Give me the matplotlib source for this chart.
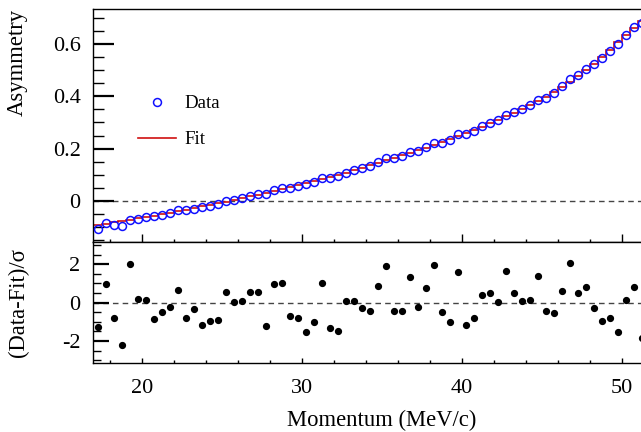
import numpy as np
import matplotlib.pyplot as plt
from matplotlib.ticker import MultipleLocator, FixedLocator

plt.rcParams['font.family'] = ['Liberation Serif', 'DejaVu Serif']
plt.rcParams['axes.unicode_minus'] = False

# bin centres (MeV/c), 0.5 MeV/c bins from 17 to 51.5
momentum = np.arange(17.25, 51.3, 0.5)
bin_edges = np.arange(17.0, 51.6, 0.5)

# measured asymmetry
asym_data = [-0.107, -0.083, -0.092, -0.095, -0.073, -0.068, -0.061, -0.059, -0.053, -0.046,
             -0.036, -0.036, -0.029, -0.025, -0.019, -0.013, -0.001, 0.003, 0.010, 0.019,
             0.026, 0.028, 0.041, 0.048, 0.051, 0.057, 0.063, 0.072, 0.087, 0.087,
             0.095, 0.108, 0.118, 0.125, 0.135, 0.149, 0.163, 0.164, 0.173, 0.188,
             0.192, 0.206, 0.222, 0.223, 0.232, 0.255, 0.255, 0.269, 0.286, 0.299,
             0.310, 0.330, 0.339, 0.352, 0.367, 0.387, 0.395, 0.413, 0.438, 0.465,
             0.481, 0.505, 0.524, 0.547, 0.575, 0.600, 0.634, 0.664, 0.682]

# fitted asymmetry per bin
asym_fit = [-0.092, -0.087, -0.082, -0.077, -0.072, -0.067, -0.061, -0.056, -0.050, -0.045,
            -0.039, -0.033, -0.027, -0.021, -0.015, -0.009, -0.003, 0.003, 0.010, 0.017,
            0.024, 0.031, 0.038, 0.045, 0.053, 0.060, 0.068, 0.076, 0.084, 0.092,
            0.100, 0.108, 0.117, 0.126, 0.136, 0.146, 0.156, 0.165, 0.174, 0.183,
            0.193, 0.203, 0.214, 0.225, 0.236, 0.248, 0.260, 0.272, 0.284, 0.297,
            0.310, 0.323, 0.337, 0.351, 0.366, 0.381, 0.397, 0.415, 0.435, 0.456,
            0.478, 0.501, 0.525, 0.551, 0.578, 0.606, 0.633, 0.660, 0.690]

# normalised residuals (Data-Fit)/sigma
residual = [-1.27, 0.97, -0.78, -2.20, 2.03, 0.21, 0.14, -0.83, -0.49, -0.24,
            0.64, -0.78, -0.35, -1.15, -0.97, -0.90, 0.54, 0.03, 0.07, 0.54,
            0.54, -1.23, 0.97, 1.02, -0.68, -0.82, -1.51, -0.99, 1.04, -1.32,
            -1.49, 0.07, 0.10, -0.28, -0.45, 0.87, 1.93, -0.45, -0.42, 1.32,
            -0.24, 0.76, 1.96, -0.49, -1.01, 1.60, -1.18, -0.78, 0.42, 0.49,
            0.05, 1.63, 0.50, 0.10, 0.16, 1.41, -0.42, -0.54, 0.59, 2.08,
            0.49, 0.83, -0.26, -0.95, -0.80, -1.51, 0.14, 0.82, -1.84]

W, H = 641, 432
fig = plt.figure(figsize=(W / 100, H / 100), dpi=100)

left = 93 / W
width = (646 - 93) / W
ax1 = fig.add_axes([left, 1 - 242 / H, width, (242 - 9) / H])
ax2 = fig.add_axes([left, 1 - 363.3 / H, width, (363.3 - 242) / H])

# upper panel: asymmetry with fit
ax1.axhline(0, color='#444444', lw=1.0, ls=(0, (4, 3)), zorder=1)
ax1.stairs(asym_fit, bin_edges, baseline=None, color='#d01010', lw=1.2, zorder=2, label='Fit')
ax1.plot(momentum, asym_data, 'o', mfc='none', mec='#1010ff', mew=1.1, ms=5.7, zorder=3, label='Data')

ax1.set_xlim(16.94, 51.5)
ax1.set_ylim(-0.157, 0.734)
ax1.yaxis.set_major_locator(FixedLocator([0, 0.2, 0.4, 0.6]))
ax1.yaxis.set_minor_locator(MultipleLocator(0.05))
ax1.set_yticklabels(['0', '0.2', '0.4', '0.6'])
ax1.xaxis.set_major_locator(MultipleLocator(10))
ax1.xaxis.set_minor_locator(MultipleLocator(2))
ax1.tick_params(axis='x', which='both', direction='in', labelbottom=False, top=False)
ax1.tick_params(axis='x', which='major', length=6, width=1)
ax1.tick_params(axis='x', which='minor', length=2.5, width=1)
ax1.tick_params(axis='y', which='both', direction='in', right=False, labelsize=16, pad=9)
ax1.tick_params(axis='y', which='major', length=15, width=1.6)
ax1.tick_params(axis='y', which='minor', length=8, width=1)
ax1.spines['right'].set_visible(False)
for s in ax1.spines.values():
    s.set_linewidth(1.0)

handles, labels = ax1.get_legend_handles_labels()
ax1.legend(handles[::-1], labels[::-1], loc='upper left',
           bbox_to_anchor=(138 / W, 1 - 95 / H), bbox_transform=fig.transFigure,
           frameon=False, fontsize=13.6, handlelength=2.0, handletextpad=0.45,
           labelspacing=1.0, borderpad=0, borderaxespad=0)

# lower panel: residuals
ax2.axhline(0, color='#444444', lw=1.0, ls=(0, (4, 3)), zorder=1)
ax2.plot(momentum, residual, 'o', color='black', ms=4.2, zorder=3)
ax2.set_xlim(16.94, 51.5)
ax2.set_ylim(-3.16, 3.16)
ax2.yaxis.set_major_locator(FixedLocator([-2, 0, 2]))
ax2.yaxis.set_minor_locator(MultipleLocator(0.5))
ax2.set_yticklabels(['-2', '0', '2'])
ax2.xaxis.set_major_locator(MultipleLocator(10))
ax2.xaxis.set_minor_locator(MultipleLocator(2))
ax2.tick_params(axis='x', which='both', direction='in', top=False, labelsize=16, pad=11)
ax2.tick_params(axis='x', which='major', length=3.5, width=1)
ax2.tick_params(axis='x', which='minor', length=2, width=1)
ax2.tick_params(axis='y', which='both', direction='in', right=False, labelsize=16, pad=9)
ax2.tick_params(axis='y', which='major', length=11.5, width=1.6)
ax2.tick_params(axis='y', which='minor', length=6, width=1)
ax2.spines['right'].set_visible(False)
for s in ax2.spines.values():
    s.set_linewidth(1.0)

fig.text(17 / W, 1 - 9 / H, 'Asymmetry', rotation=90, ha='center', va='top', fontsize=16.3)
fig.text(18 / W, 1 - 302.7 / H, '(Data-Fit)/σ', rotation=90, ha='center', va='center', fontsize=16.3)
fig.text(382 / W, 1 - 420 / H, 'Momentum (MeV/c)', ha='center', va='center', fontsize=16.3)

fig.savefig('out.png', dpi=100)
